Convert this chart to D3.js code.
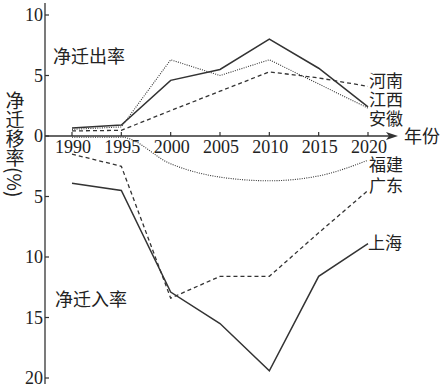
<!DOCTYPE html>
<html>
<head>
<meta charset="utf-8">
<script src="https://cdn.jsdelivr.net/npm/d3@7"></script>
<style>
  body { margin: 0; background: #fff; }
  svg { display: block; }
  .cn { font-family: "Noto Sans CJK SC", sans-serif; fill: #222; }
  .num { font-family: "Liberation Serif", serif; fill: #222; }
</style>
</head>
<body>
<div id="chart"></div>
<script>
// years on the x axis
const years = [1990, 1995, 2000, 2005, 2010, 2015, 2020]
// net out-migration rate (%), drawn above 0
const henan = [0.42, 0.47, 2.1, 3.7, 5.3, 4.8, 4.1]
const jiangxi = [0.67, 0.9, 4.6, 5.5, 8.0, 5.6, 2.4]
const anhui = [0.55, 0.75, 6.3, 5.0, 6.3, 4.3, 2.3]
// net in-migration rate (%), drawn below 0
const fujian = [0.1, 0.1, 2.3, 3.4, 3.7, 3.3, 2.0]
const guangdong = [1.5, 2.5, 13.4, 11.6, 11.6, 8.0, 4.5]
const shanghai = [3.9, 4.5, 12.9, 15.5, 19.4, 11.6, 8.9]
const yTicks = [10, 5, 0, -5, -10, -15, -20]

const width = 443, height = 388

const svg = d3.select("#chart")
  .append("svg")
  .attr("width", width)
  .attr("height", height)

// x: year -> px, y: signed rate -> px (out-rate up, in-rate down)
const x = d3.scaleLinear()
  .domain([1990, 2020])
  .range([72, 368])

const y = d3.scaleLinear()
  .domain([-20, 10])
  .range([378, 15])

const axisX = 45
const y0 = y(0)

// Y axis line
svg.append("line")
  .attr("x1", axisX).attr("x2", axisX)
  .attr("y1", 3).attr("y2", 384)
  .attr("stroke", "#333").attr("stroke-width", 1.3)

svg.selectAll(".ytick")
  .data(yTicks)
  .join("line")
  .attr("x1", axisX).attr("x2", axisX + 4)
  .attr("y1", d => y(d)).attr("y2", d => y(d))
  .attr("stroke", "#333").attr("stroke-width", 1.2)

svg.selectAll(".ylab")
  .data(yTicks)
  .join("text")
  .attr("class", "num")
  .attr("x", axisX - 2)
  .attr("y", d => y(d))
  .attr("dy", "0.35em")
  .attr("text-anchor", "end")
  .attr("font-size", 18)
  .text(d => Math.abs(d))

// X axis with arrow
svg.append("line")
  .attr("x1", axisX).attr("x2", 392)
  .attr("y1", y0).attr("y2", y0)
  .attr("stroke", "#333").attr("stroke-width", 1.3)

svg.append("path")
  .attr("d", `M398,${y0} L386,${y0 - 4} L389,${y0} L386,${y0 + 4} Z`)
  .attr("fill", "#333")

svg.selectAll(".xtick")
  .data(years)
  .join("line")
  .attr("x1", d => x(d)).attr("x2", d => x(d))
  .attr("y1", y0).attr("y2", y0 - 4)
  .attr("stroke", "#333").attr("stroke-width", 1.2)

svg.selectAll(".xlab")
  .data(years)
  .join("text")
  .attr("class", "num")
  .attr("x", d => x(d) + 1)
  .attr("y", y0 + 17)
  .attr("text-anchor", "middle")
  .attr("font-size", 18)
  .text(d => d)

// series lines
const series = [
  { values: henan, sign: 1, dash: "4,3", width: 1.3, curve: d3.curveLinear },
  { values: anhui, sign: 1, dash: "1,1.3", width: 1.1, curve: d3.curveLinear },
  { values: jiangxi, sign: 1, dash: null, width: 1.5, curve: d3.curveLinear },
  { values: fujian, sign: -1, dash: "1,1.3", width: 1.1, curve: d3.curveMonotoneX },
  { values: guangdong, sign: -1, dash: "4,3", width: 1.3, curve: d3.curveLinear },
  { values: shanghai, sign: -1, dash: null, width: 1.5, curve: d3.curveLinear },
]

series.forEach(s => {
  svg.append("path")
    .datum(years.map((yr, i) => ({ yr: yr, v: s.sign * s.values[i] })))
    .attr("fill", "none")
    .attr("stroke", "#333")
    .attr("stroke-width", s.width)
    .attr("stroke-dasharray", s.dash)
    .attr("d", d3.line()
      .curve(s.curve)
      .x(d => x(d.yr))
      .y(d => y(d.v))
    )
})

// labels
const addText = (txt, tx, ty, size) => {
  svg.append("text")
    .attr("class", "cn")
    .attr("x", tx).attr("y", ty)
    .attr("dy", "0.35em")
    .attr("font-size", size)
    .text(txt)
}

addText("净迁出率", 53, 57, 18)
addText("净迁入率", 55, 300, 18)
addText("河南", 369, 81, 17)
addText("江西", 369, 100, 17)
addText("安徽", 369, 119, 17)
addText("年份", 404, 137, 18)
addText("福建", 369, 165, 17)
addText("广东", 369, 186, 17)
addText("上海", 368, 243, 17)

// vertical axis title
svg.append("text")
  .attr("class", "cn")
  .attr("x", 15)
  .attr("y", 91)
  .attr("font-size", 19)
  .style("writing-mode", "vertical-rl")
  .text("净迁移率(%)")
</script>
</body>
</html>
